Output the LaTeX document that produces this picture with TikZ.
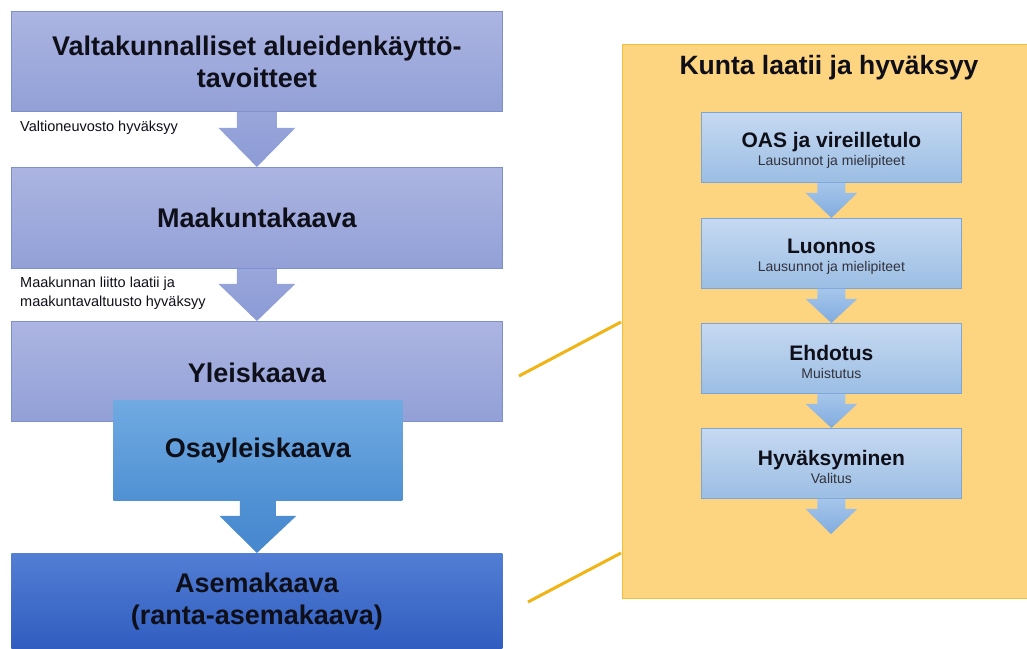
\documentclass[tikz,border=0pt]{standalone}
\usepackage{fontspec}
\setmainfont{Liberation Sans}
\usetikzlibrary{calc}
\definecolor{lavTop}{RGB}{172,181,226}
\definecolor{lavBot}{RGB}{146,160,215}
\definecolor{lavBd}{RGB}{125,143,205}
\definecolor{lavArrT}{RGB}{152,166,219}
\definecolor{lavArrB}{RGB}{140,155,213}
\definecolor{osaTop}{RGB}{112,170,225}
\definecolor{osaBot}{RGB}{80,145,212}
\definecolor{osaArrB}{RGB}{70,135,205}
\definecolor{aseTop}{RGB}{82,126,212}
\definecolor{aseBot}{RGB}{48,92,192}
\definecolor{yelFill}{RGB}{253,213,128}
\definecolor{yelBd}{RGB}{243,190,55}
\definecolor{yelLine}{RGB}{240,180,20}
\definecolor{inTop}{RGB}{198,217,241}
\definecolor{inBot}{RGB}{155,190,228}
\definecolor{inBd}{RGB}{125,165,215}
\definecolor{inArrT}{RGB}{165,198,235}
\definecolor{inArrB}{RGB}{130,172,222}
\definecolor{subC}{RGB}{50,50,60}
\definecolor{titleC}{RGB}{15,15,25}
\newcommand{\intitle}[1]{{\bfseries\fontsize{21}{18}\selectfont\rule{0pt}{21.5pt}#1}}
\begin{document}
\begin{tikzpicture}[x=1pt,y=-1pt,
  bigbox/.style={draw=lavBd, line width=0.8pt, top color=lavTop, bottom color=lavBot,
    anchor=north west, inner sep=0pt, align=center, text=titleC,
    font=\bfseries\fontsize{27}{32}\selectfont},
  inbox/.style={draw=inBd, line width=0.8pt, top color=inTop, bottom color=inBot,
    anchor=north west, inner sep=0pt, align=center, text=titleC,
    minimum width=260pt, minimum height=70pt,
    font=\fontsize{14}{18}\selectfont},
  note/.style={anchor=west, inner sep=0pt, align=left, text=titleC,
    font=\fontsize{14.5}{19}\selectfont},
  lavarrow/.style={top color=lavArrT, bottom color=lavArrB, draw=none},
  osaarrow/.style={top color=osaBot, bottom color=osaArrB, draw=none},
  inarrow/.style={top color=inArrT, bottom color=inArrB, draw=none},
  yline/.style={draw=yelLine, line width=3pt}
]
\useasboundingbox (0,0) rectangle (1027,648);
\clip (0,0) rectangle (1027,648);
\fill[white] (0,0) rectangle (1027,648);

% ---------- right panel ----------
\node[draw=yelBd, line width=1.2pt, fill=yelFill, anchor=north west,
  minimum width=420pt, minimum height=554pt, inner sep=0pt] (kunta) at (622,44) {};
\node[font=\bfseries\fontsize{26.5}{30}\selectfont, text=titleC] (ktitle) at (829,68) {Kunta laatii ja hyväksyy};

\coordinate (ya1) at (519,376);
\coordinate (yb1) at (621,322);
\coordinate (ya2) at (528,602);
\coordinate (yb2) at (621,553);
\draw[yline] (ya1) -- (yb1);
\draw[yline] (ya2) -- (yb2);

\node[inbox] (oas) at (701,112) {\intitle{OAS ja vireilletulo}\\{\color{subC}Lausunnot ja mielipiteet}};
\node[inbox] (luo) at (701,218) {\intitle{Luonnos}\\{\color{subC}Lausunnot ja mielipiteet}};
\node[inbox] (ehd) at (701,323) {\intitle{Ehdotus}\\{\color{subC}Muistutus}};
\node[inbox] (hyv) at (701,428) {\intitle{Hyväksyminen}\\{\color{subC}Valitus}};
\coordinate (end) at (831,534);

\foreach \a/\b in {oas/luo,luo/ehd,ehd/hyv} {
  \path[inarrow] ($(\a.south)+(-14,0)$) -- ($(\a.south)+(14,0)$) -- ($(\a.south)+(14,10)$)
    -- ($(\a.south)+(26,10)$) -- (\b.north) -- ($(\a.south)+(-26,10)$)
    -- ($(\a.south)+(-14,10)$) -- cycle;
}
\path[inarrow] ($(hyv.south)+(-14,0)$) -- ($(hyv.south)+(14,0)$) -- ($(hyv.south)+(14,10)$)
    -- ($(hyv.south)+(26,10)$) -- (end) -- ($(hyv.south)+(-26,10)$)
    -- ($(hyv.south)+(-14,10)$) -- cycle;

% ---------- left column ----------
\node[bigbox, minimum width=491pt, minimum height=100pt] (vat) at (11,11)
  {Valtakunnalliset alueidenkäyttö-\\tavoitteet};
\node[bigbox, minimum width=491pt, minimum height=101pt] (maak) at (11,167) {Maakuntakaava};
\node[bigbox, minimum width=491pt, minimum height=100pt] (yleis) at (11,321) {\rule{0pt}{23pt}Yleiskaava};
\node[bigbox, draw=none, top color=osaTop, bottom color=osaBot,
  minimum width=289pt, minimum height=100pt] (osa) at (113,400) {Osayleiskaava};
\node[bigbox, draw=none, top color=aseTop, bottom color=aseBot,
  minimum width=491pt, minimum height=97pt] (ase) at (11,553) {Asemakaava\\(ranta-asemakaava)};

\path[lavarrow] ($(vat.south)+(-20,0)$) -- ($(vat.south)+(20,0)$) -- ($(vat.south)+(20,16)$)
  -- ($(vat.south)+(38.5,16)$) -- (maak.north) -- ($(vat.south)+(-38.5,16)$)
  -- ($(vat.south)+(-20,16)$) -- cycle;
\path[lavarrow] ($(maak.south)+(-20,0)$) -- ($(maak.south)+(20,0)$) -- ($(maak.south)+(20,15)$)
  -- ($(maak.south)+(38.5,15)$) -- (yleis.north) -- ($(maak.south)+(-38.5,15)$)
  -- ($(maak.south)+(-20,15)$) -- cycle;
\path[osaarrow] ($(osa.south)+(-18,0)$) -- ($(osa.south)+(18,0)$) -- ($(osa.south)+(18,15)$)
  -- ($(osa.south)+(38.5,15)$) -- (ase.north) -- ($(osa.south)+(-38.5,15)$)
  -- ($(osa.south)+(-18,15)$) -- cycle;

\node[note] (n1) at (20,128) {Valtioneuvosto hyväksyy};
\node[note] (n2) at (20,293) {Maakunnan liitto laatii ja\\maakuntavaltuusto hyväksyy};
\end{tikzpicture}
\end{document}
